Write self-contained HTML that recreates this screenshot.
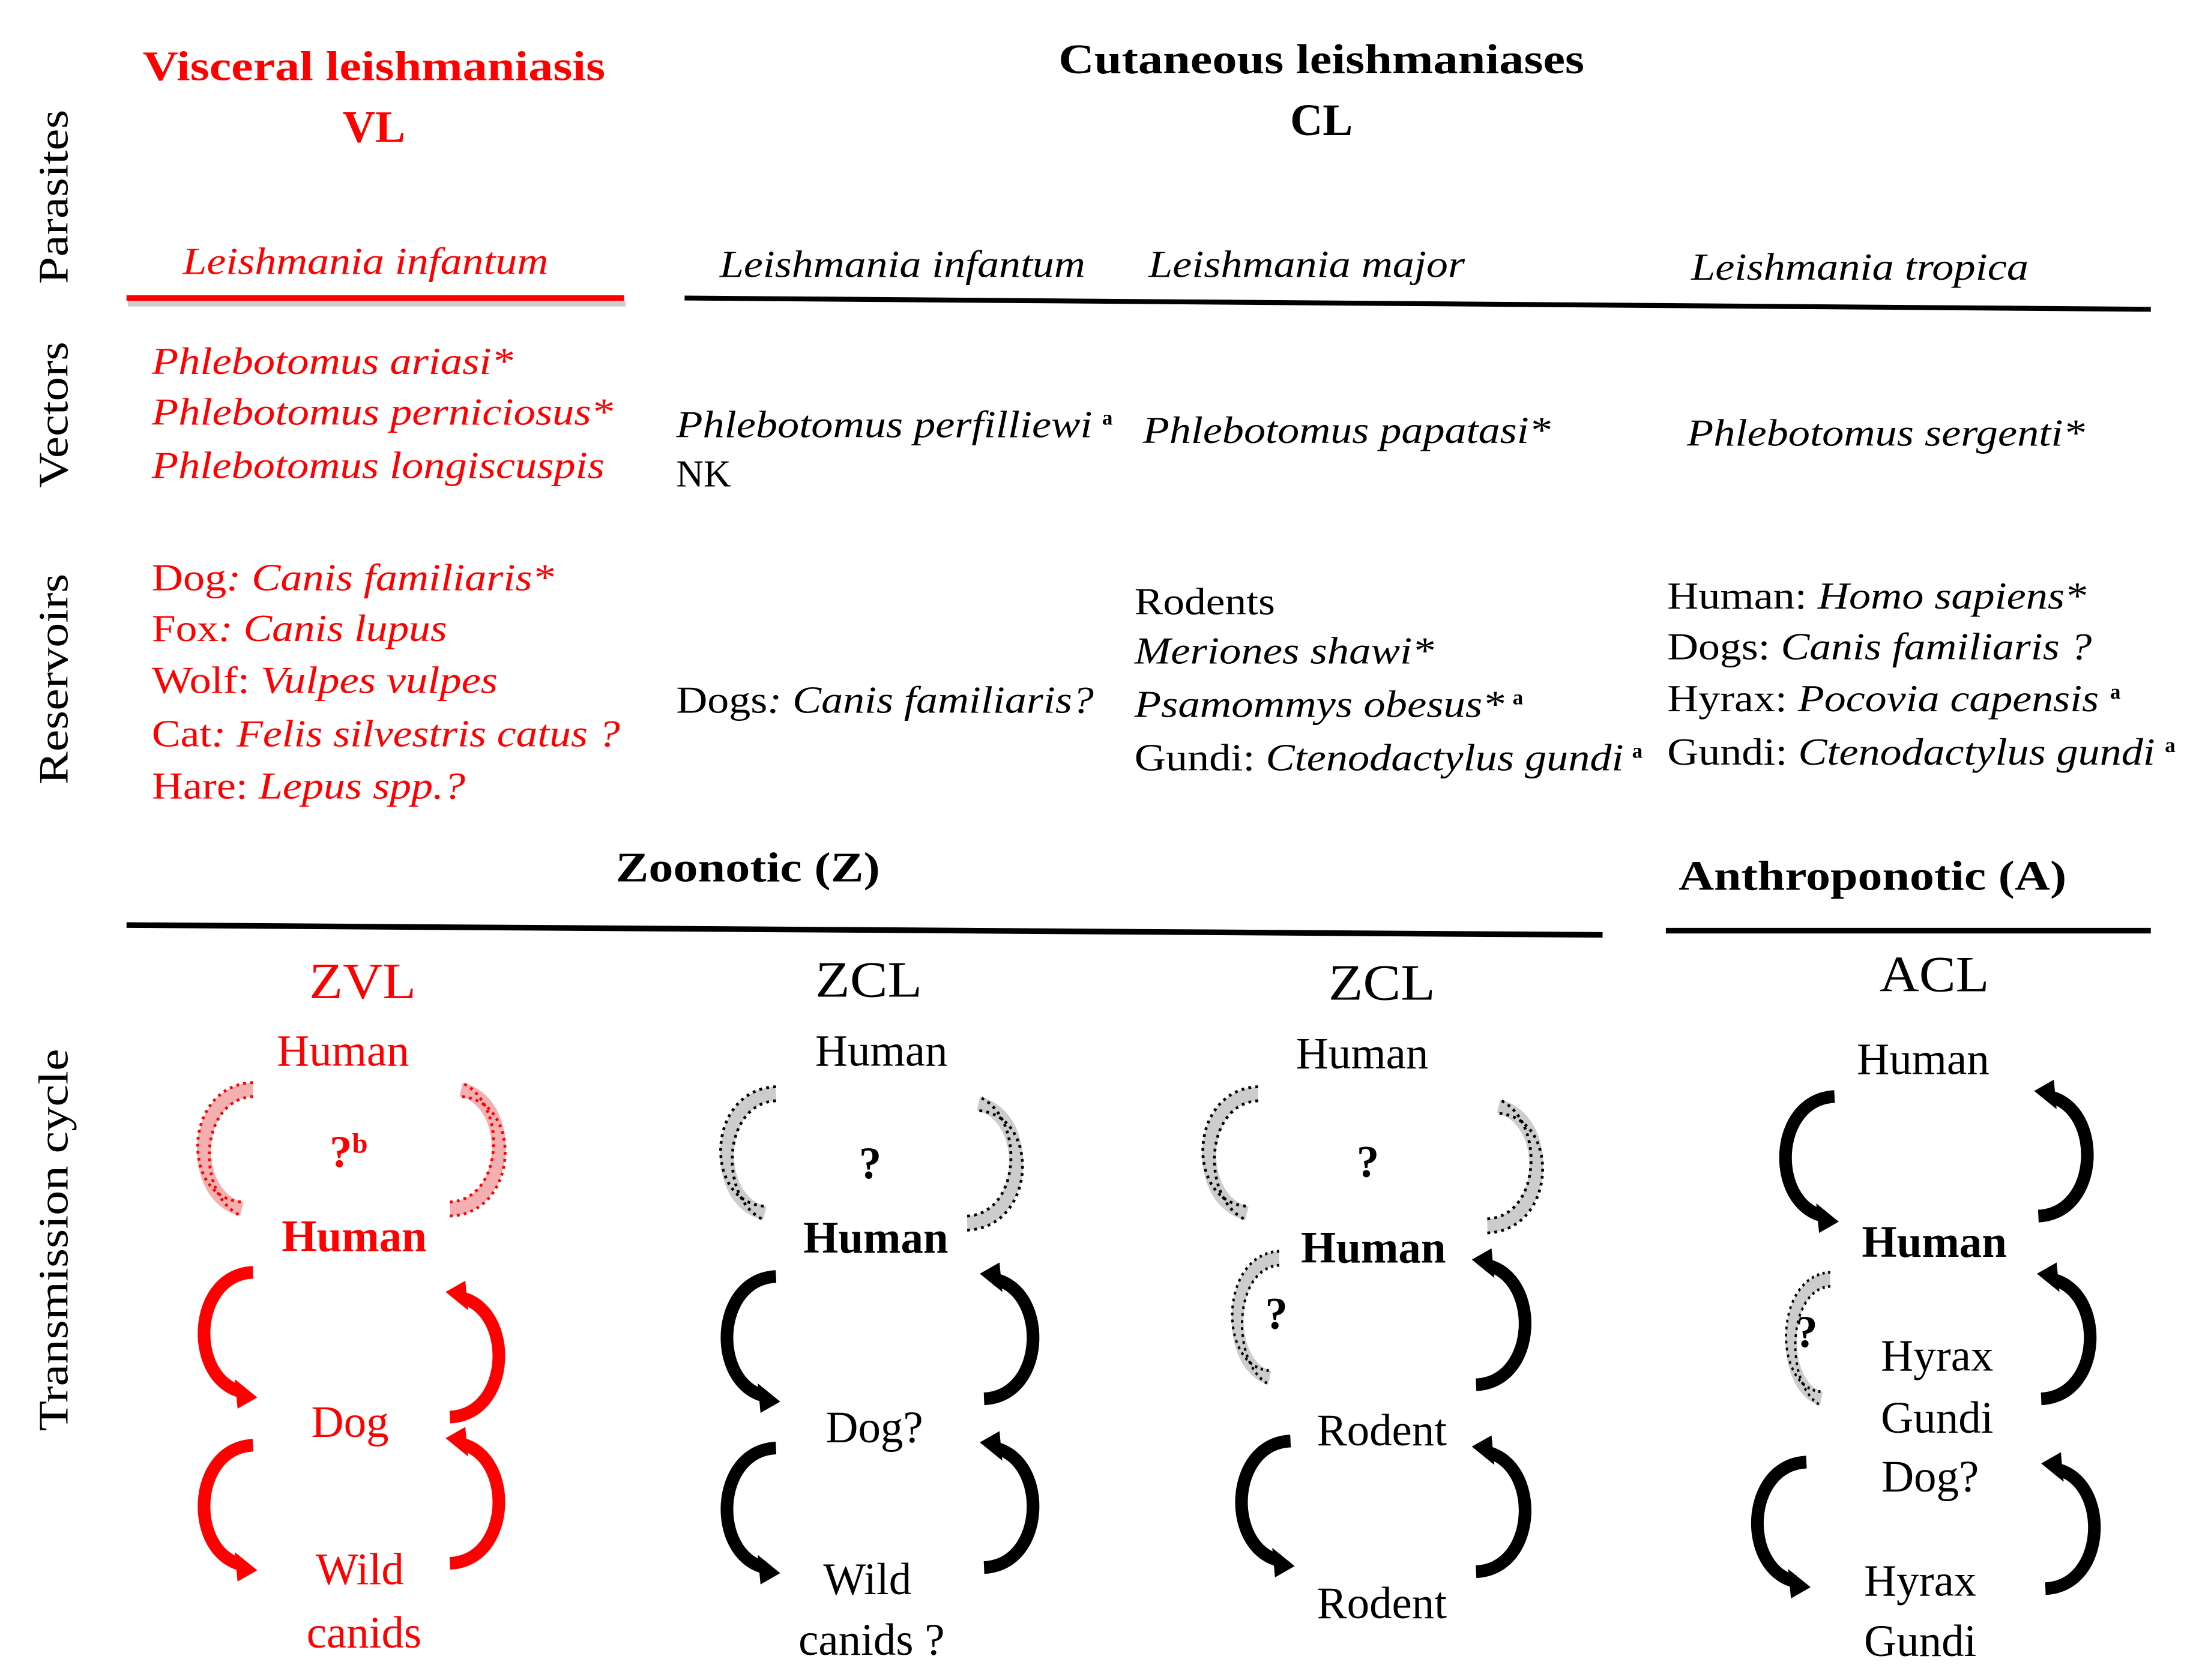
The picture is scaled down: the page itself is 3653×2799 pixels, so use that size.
<!DOCTYPE html>
<html><head><meta charset="utf-8"><style>
html,body{margin:0;padding:0;background:#fff;}
svg{display:block;}
text{font-family:"Liberation Serif","Times New Roman",Tinos,Times,serif;}
.b{font-weight:bold;}
.i{font-style:italic;}
.r{fill:#f00;}
</style></head><body>
<svg width="3653" height="2799" viewBox="0 0 1560 1195" preserveAspectRatio="none" xmlns="http://www.w3.org/2000/svg" font-family="Liberation Serif, Times New Roman, serif">
<defs>
<g id="la">
<path d="M0,0 C-44,2 -46,76 -8,85" fill="none" stroke-width="9"/>
<polygon points="-13,76 3,89 -11,97" stroke="none"/>
</g>
<g id="ld">
<path d="M0,0 C-44,2 -46,76 -8,85" fill="none" stroke-width="10" stroke="#ccc"/>
<path d="M0,-5 C-50,-3 -52,77 -8,80" fill="none" stroke-width="2" stroke-dasharray="2 3"/>
<path d="M0,5 C-39,7 -41,76 -8,90" fill="none" stroke-width="2" stroke-dasharray="2 3"/>
</g>
</defs>

<text x="266" y="57" text-anchor="middle" class="b r" font-size="30" textLength="329" lengthAdjust="spacingAndGlyphs">Visceral leishmaniasis</text>
<text x="266" y="101" text-anchor="middle" class="b r" font-size="32">VL</text>
<text x="940" y="52" text-anchor="middle" class="b" font-size="30" textLength="374" lengthAdjust="spacingAndGlyphs">Cutaneous leishmaniases</text>
<text x="940" y="96" text-anchor="middle" class="b" font-size="32">CL</text>

<text transform="translate(48,140) rotate(-90)" text-anchor="middle" font-size="30" textLength="124" lengthAdjust="spacingAndGlyphs">Parasites</text>
<text transform="translate(48,295) rotate(-90)" text-anchor="middle" font-size="30" textLength="104" lengthAdjust="spacingAndGlyphs">Vectors</text>
<text transform="translate(48,483) rotate(-90)" text-anchor="middle" font-size="30" textLength="150" lengthAdjust="spacingAndGlyphs">Reservoirs</text>
<text transform="translate(48,882) rotate(-90)" text-anchor="middle" font-size="30" textLength="272" lengthAdjust="spacingAndGlyphs">Transmission cycle</text>

<text x="130" y="195" class="i r" font-size="27" textLength="260" lengthAdjust="spacingAndGlyphs">Leishmania infantum</text>
<line x1="90" y1="213" x2="444" y2="213" stroke="#ccc" stroke-width="4" transform="translate(1,3)"/>
<line x1="90" y1="212" x2="444" y2="212" stroke="#f00" stroke-width="4"/>
<text x="512" y="197" class="i" font-size="27" textLength="260" lengthAdjust="spacingAndGlyphs">Leishmania infantum</text>
<text x="817" y="197" class="i" font-size="27" textLength="225" lengthAdjust="spacingAndGlyphs">Leishmania major</text>
<text x="1203" y="199" class="i" font-size="27" textLength="240" lengthAdjust="spacingAndGlyphs">Leishmania tropica</text>
<line x1="487" y1="212" x2="1530" y2="220" stroke="#000" stroke-width="3.5"/>

<g class="i r" font-size="27">
<text x="108" y="266" textLength="257" lengthAdjust="spacingAndGlyphs">Phlebotomus ariasi*</text>
<text x="108" y="302" textLength="328" lengthAdjust="spacingAndGlyphs">Phlebotomus perniciosus*</text>
<text x="108" y="340" textLength="322" lengthAdjust="spacingAndGlyphs">Phlebotomus longiscuspis</text>
</g>
<text x="481" y="311" class="i" font-size="27" textLength="296" lengthAdjust="spacingAndGlyphs">Phlebotomus perfilliewi</text>
<text x="784" y="302" font-size="15" class="b">a</text>
<text x="481" y="346" font-size="27">NK</text>
<text x="813" y="315" class="i" font-size="27" textLength="290" lengthAdjust="spacingAndGlyphs">Phlebotomus papatasi*</text>
<text x="1200" y="317" class="i" font-size="27" textLength="283" lengthAdjust="spacingAndGlyphs">Phlebotomus sergenti*</text>

<g class="r" font-size="27">
<text x="108" y="420" textLength="286" lengthAdjust="spacingAndGlyphs">Dog<tspan class="i">: Canis familiaris*</tspan></text>
<text x="108" y="456" textLength="210" lengthAdjust="spacingAndGlyphs">Fox<tspan class="i">: Canis lupus</tspan></text>
<text x="108" y="493" textLength="246" lengthAdjust="spacingAndGlyphs">Wolf: <tspan class="i">Vulpes vulpes</tspan></text>
<text x="108" y="531" textLength="333" lengthAdjust="spacingAndGlyphs">Cat<tspan class="i">: Felis silvestris catus ?</tspan></text>
<text x="108" y="568" textLength="223" lengthAdjust="spacingAndGlyphs">Hare<tspan>: </tspan><tspan class="i">Lepus spp.?</tspan></text>
</g>
<text x="481" y="507" font-size="27" textLength="297" lengthAdjust="spacingAndGlyphs">Dogs<tspan class="i">: Canis familiaris?</tspan></text>
<g font-size="27">
<text x="807" y="437" textLength="100" lengthAdjust="spacingAndGlyphs">Rodents</text>
<text x="807" y="472" class="i" textLength="213" lengthAdjust="spacingAndGlyphs">Meriones shawi*</text>
<text x="807" y="510" class="i" textLength="263" lengthAdjust="spacingAndGlyphs">Psamommys obesus*</text>
<text x="1076" y="501" font-size="15" class="b">a</text>
<text x="807" y="548" textLength="348" lengthAdjust="spacingAndGlyphs">Gundi: <tspan class="i">Ctenodactylus gundi</tspan></text>
<text x="1161" y="539" font-size="15" class="b">a</text>
<text x="1186" y="433" textLength="298" lengthAdjust="spacingAndGlyphs">Human: <tspan class="i">Homo sapiens*</tspan></text>
<text x="1186" y="469" textLength="302" lengthAdjust="spacingAndGlyphs">Dogs: <tspan class="i">Canis familiaris ?</tspan></text>
<text x="1186" y="506" textLength="307" lengthAdjust="spacingAndGlyphs">Hyrax: <tspan class="i">Pocovia capensis</tspan></text>
<text x="1501" y="497" font-size="15" class="b">a</text>
<text x="1186" y="544" textLength="347" lengthAdjust="spacingAndGlyphs">Gundi: <tspan class="i">Ctenodactylus gundi</tspan></text>
<text x="1540" y="535" font-size="15" class="b">a</text>
</g>

<text x="532" y="627" text-anchor="middle" class="b" font-size="30" textLength="188" lengthAdjust="spacingAndGlyphs">Zoonotic (Z)</text>
<text x="1332" y="633" text-anchor="middle" class="b" font-size="30" textLength="276" lengthAdjust="spacingAndGlyphs">Anthroponotic (A)</text>
<line x1="90" y1="658" x2="1140" y2="665" stroke="#000" stroke-width="4"/>
<line x1="1185" y1="662" x2="1530" y2="662" stroke="#000" stroke-width="4"/>

<text x="258" y="710" text-anchor="middle" class="r" font-size="36" textLength="76" lengthAdjust="spacingAndGlyphs">ZVL</text>
<text x="618" y="709" text-anchor="middle" font-size="36" textLength="76" lengthAdjust="spacingAndGlyphs">ZCL</text>
<text x="983" y="711" text-anchor="middle" font-size="36" textLength="76" lengthAdjust="spacingAndGlyphs">ZCL</text>
<text x="1376" y="705" text-anchor="middle" font-size="36" textLength="78" lengthAdjust="spacingAndGlyphs">ACL</text>

<g class="r" font-size="32" text-anchor="middle">
<text x="244" y="758">Human</text>
<text x="248" y="830" class="b">?<tspan font-size="20" dy="-10">b</tspan></text>
<text x="252" y="890" class="b">Human</text>
<text x="249" y="1022">Dog</text>
<text x="256" y="1127">Wild</text>
<text x="259" y="1172">canids</text>
</g>
<g fill="#f00" stroke="#f00">
<g transform="translate(180,775)"><path d="M0,0 C-44,2 -46,76 -8,85" fill="none" stroke-width="10" stroke="#f4b0b0"/>
<path d="M0,-5 C-50,-3 -52,77 -8,80" fill="none" stroke-width="2" stroke-dasharray="2 3"/><path d="M0,5 C-39,7 -41,76 -8,90" fill="none" stroke-width="2" stroke-dasharray="2 3"/></g>
<g transform="translate(320,860) rotate(180)"><path d="M0,0 C-44,2 -46,76 -8,85" fill="none" stroke-width="10" stroke="#f4b0b0"/>
<path d="M0,-5 C-50,-3 -52,77 -8,80" fill="none" stroke-width="2" stroke-dasharray="2 3"/><path d="M0,5 C-39,7 -41,76 -8,90" fill="none" stroke-width="2" stroke-dasharray="2 3"/></g>
<use href="#la" transform="translate(180,905)"/>
<use href="#la" transform="translate(320,1008) rotate(180)"/>
<use href="#la" transform="translate(180,1028)"/>
<use href="#la" transform="translate(320,1112) rotate(180)"/>
</g>

<g font-size="32" text-anchor="middle">
<text x="627" y="758">Human</text>
<text x="619" y="838" class="b">?</text>
<text x="623" y="891" class="b">Human</text>
<text x="622" y="1026">Dog?</text>
<text x="617" y="1134">Wild</text>
<text x="620" y="1177">canids ?</text>
</g>
<g fill="#000" stroke="#000">
<use href="#ld" transform="translate(552,778)"/>
<use href="#ld" transform="translate(688,870) rotate(180)"/>
<use href="#la" transform="translate(552,908)"/>
<use href="#la" transform="translate(700,995) rotate(180)"/>
<use href="#la" transform="translate(552,1030)"/>
<use href="#la" transform="translate(700,1115) rotate(180)"/>
</g>

<g font-size="32" text-anchor="middle">
<text x="969" y="760">Human</text>
<text x="973" y="837" class="b">?</text>
<text x="977" y="898" class="b">Human</text>
<text x="908" y="945" class="b">?</text>
<text x="983" y="1028">Rodent</text>
<text x="983" y="1151">Rodent</text>
</g>
<g fill="#000" stroke="#000">
<use href="#ld" transform="translate(895,778)"/>
<use href="#ld" transform="translate(1058,872) rotate(180)"/>
<use href="#ld" transform="translate(910,895) scale(0.85,1)"/>
<use href="#la" transform="translate(1050,985) rotate(180)"/>
<use href="#la" transform="translate(918,1025)"/>
<use href="#la" transform="translate(1050,1118) rotate(180)"/>
</g>

<g font-size="32" text-anchor="middle">
<text x="1368" y="764">Human</text>
<text x="1376" y="894" class="b">Human</text>
<text x="1285" y="958" class="b">?</text>
<text x="1378" y="975">Hyrax</text>
<text x="1378" y="1019">Gundi</text>
<text x="1373" y="1061">Dog?</text>
<text x="1366" y="1135">Hyrax</text>
<text x="1366" y="1178">Gundi</text>
</g>
<g fill="#000" stroke="#000">
<use href="#la" transform="translate(1305,780)"/>
<use href="#la" transform="translate(1450,865) rotate(180)"/>
<use href="#ld" transform="translate(1302,910) scale(0.8,1)"/>
<use href="#la" transform="translate(1452,995) rotate(180)"/>
<use href="#la" transform="translate(1285,1040)"/>
<use href="#la" transform="translate(1455,1130) rotate(180)"/>
</g>
</svg>
</body></html>
